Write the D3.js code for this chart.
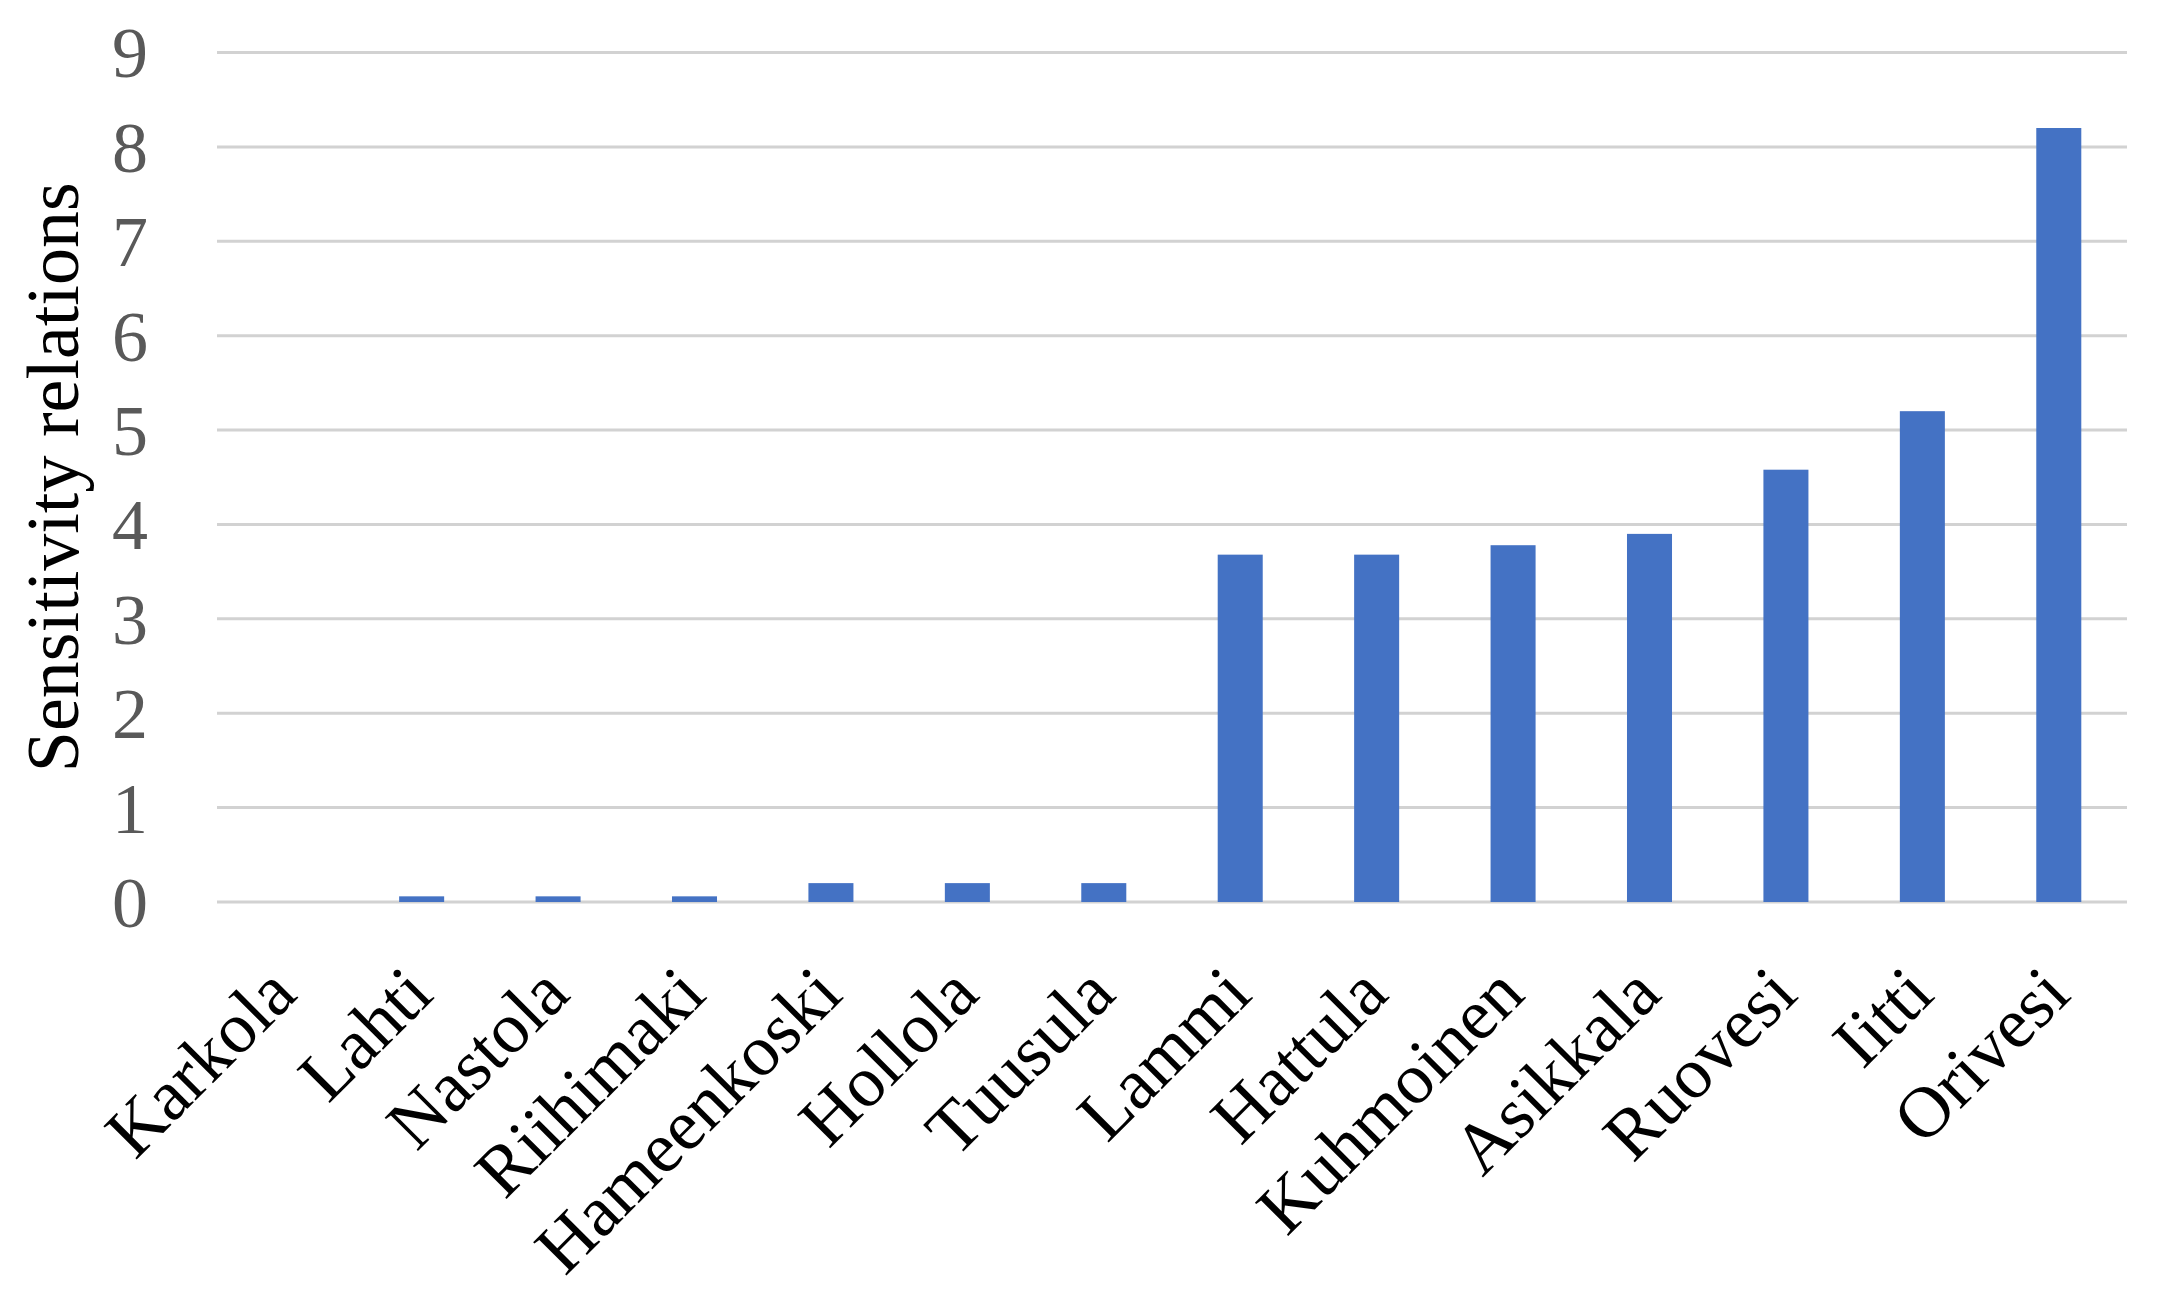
<!DOCTYPE html>
<html>
<head>
<meta charset="utf-8">
<script src="https://cdn.jsdelivr.net/npm/d3@7"></script>
<style>
  html, body { margin: 0; padding: 0; background: #ffffff; }
  svg { display: block; }
</style>
</head>
<body>
<script>
const categories = ["Karkola", "Lahti", "Nastola", "Riihimaki", "Hameenkoski", "Hollola", "Tuusula",
  "Lammi", "Hattula", "Kuhmoinen", "Asikkala", "Ruovesi", "Iitti", "Orivesi"];
const values = [0, 0.06, 0.06, 0.06, 0.2, 0.2, 0.2, 3.68, 3.68, 3.78, 3.9, 4.58, 5.2, 8.2];
const yTicks = [0, 1, 2, 3, 4, 5, 6, 7, 8, 9];
const yTitle = "Sensitivity relations";

const W = 2167, H = 1308;
const mLeft = 217, mRight = 2127, mTop = 52.5, mBottom = 902;

const svg = d3.select("body").append("svg").attr("width", W).attr("height", H);

const x = d3.scaleBand().domain(categories).range([mLeft, mRight]).paddingInner(0.67).paddingOuter(0.335);
const y = d3.scaleLinear().domain([0, 9]).range([mBottom, mTop]);

// gridlines
svg.append("g").selectAll("line").data(yTicks).join("line")
  .attr("x1", mLeft).attr("x2", mRight)
  .attr("y1", d => y(d)).attr("y2", d => y(d))
  .attr("stroke", "#d2d2d2").attr("stroke-width", 3);

// bars
svg.append("g").selectAll("rect").data(categories).join("rect")
  .attr("x", d => x(d))
  .attr("width", x.bandwidth())
  .attr("y", (d, i) => y(values[i]))
  .attr("height", (d, i) => mBottom - y(values[i]))
  .attr("fill", "#4472C4");

// y axis tick labels
const yAxis = d3.axisLeft(y).tickValues(yTicks).tickSize(0).tickPadding(0);
const yg = svg.append("g").attr("transform", `translate(148,0)`).call(yAxis);
yg.select(".domain").remove();
yg.selectAll("text")
  .attr("font-family", "'Liberation Serif', 'Times New Roman', serif")
  .attr("font-size", 72)
  .attr("fill", "#595959")
  .attr("dy", "0.34em");

// x axis labels
const xAxis = d3.axisBottom(x).tickSize(0).tickPadding(0);
const xg = svg.append("g").attr("transform", `translate(0,${mBottom})`).call(xAxis);
xg.select(".domain").remove();
xg.selectAll("text")
  .attr("font-family", "'Liberation Serif', 'Times New Roman', serif")
  .attr("font-size", 72)
  .attr("fill", "#000000")
  .attr("text-anchor", "end")
  .attr("dy", 0)
  .attr("y", 0)
  .attr("transform", "translate(14,95) rotate(-45)");

// y title
svg.append("text")
  .attr("transform", `translate(78,${(mTop + mBottom) / 2}) rotate(-90)`)
  .attr("text-anchor", "middle")
  .attr("font-family", "'Liberation Serif', 'Times New Roman', serif")
  .attr("font-size", 74)
  .attr("fill", "#000000")
  .text(yTitle);
</script>
</body>
</html>
